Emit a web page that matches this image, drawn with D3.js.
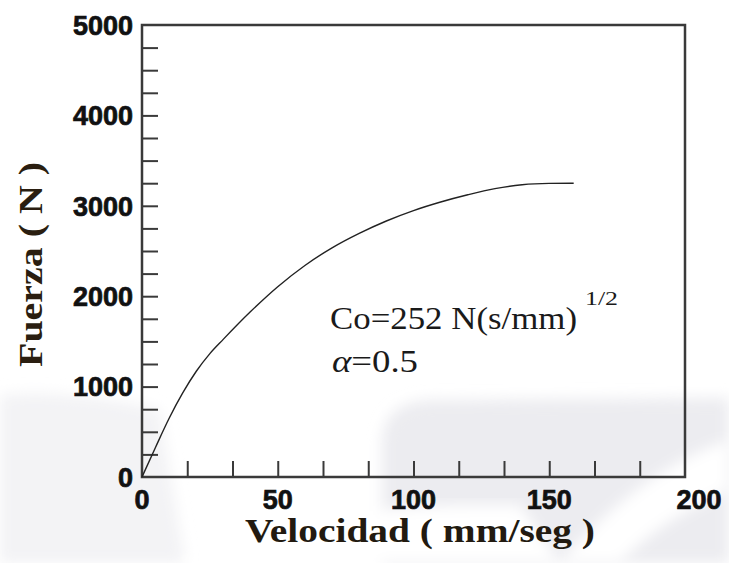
<!DOCTYPE html>
<html>
<head>
<meta charset="utf-8">
<script src="https://cdn.jsdelivr.net/npm/d3@7"></script>
<style>
  body { margin: 0; background: #fff; }
  svg { display: block; }
</style>
</head>
<body>
<svg></svg>
<script>
// curve: velocity (mm/seg) and force (N)
var velocidad = [0, 5, 10, 15, 20, 25, 30, 40, 50, 60, 70, 80, 90, 100, 110, 120, 130, 140, 150, 159];
var fuerza = [0, 330, 650, 930, 1170, 1365, 1525, 1830, 2105, 2340, 2535, 2695, 2832, 2947, 3042, 3122, 3190, 3233, 3248, 3250];

var xLabels = [0, 50, 100, 150, 200];
var yLabels = [0, 1000, 2000, 3000, 4000, 5000];

let width = 729, height = 563;
let margin = {left: 142, top: 25, right: 44, bottom: 86};

let svg = d3.select("svg")
    .attr("width", width)
    .attr("height", height);

// faint watermark in the background
let wm = svg.append("g").attr("id", "watermark");
wm.append("defs").append("filter").attr("id", "soft")
    .append("feGaussianBlur").attr("stdDeviation", 7);
wm.append("path")
    .attr("d", "M0,395 C60,390 120,400 160,410 L185,563 L0,563 Z")
    .attr("fill", "#f3f3f5")
    .attr("filter", "url(#soft)");
wm.append("path")
    .attr("d", "M382,563 L382,440 Q385,402 430,400 L729,398 L729,563 Z")
    .attr("fill", "#ececf0")
    .attr("filter", "url(#soft)");
wm.append("path")
    .attr("d", "M560,563 Q640,470 729,440 L729,490 Q660,520 620,563 Z")
    .attr("fill", "#ffffff")
    .attr("filter", "url(#soft)");
wm.append("path")
    .attr("d", "M180,563 Q300,500 520,505 L560,563 Z")
    .attr("fill", "#ffffff")
    .attr("filter", "url(#soft)");

let x = d3.scaleLinear()
    .domain([0, 200])
    .range([margin.left, width - margin.right]);

let y = d3.scaleLinear()
    .domain([0, 5000])
    .range([height - margin.bottom, margin.top]);

let axisColor = "#3a3a3a";

// minor + major ticks, pointing inward
let xTicks = d3.range(1, 12).map(i => i * 50 / 3);
let yTicks = d3.range(1, 20).map(i => i * 250);

svg.append("g")
    .attr("transform", "translate(0," + y(0) + ")")
    .call(d3.axisBottom(x).tickValues(xTicks).tickSize(-16).tickFormat(""))
    .call(g => g.select(".domain").remove())
    .selectAll("line")
    .attr("stroke", axisColor)
    .attr("stroke-width", 2);

svg.append("g")
    .attr("transform", "translate(" + x(0) + ",0)")
    .call(d3.axisLeft(y).tickValues(yTicks).tickSize(-16).tickFormat(""))
    .call(g => g.select(".domain").remove())
    .selectAll("line")
    .attr("stroke", axisColor)
    .attr("stroke-width", 2);

// frame
svg.append("rect")
    .attr("x", x(0))
    .attr("y", y(5000))
    .attr("width", x(200) - x(0))
    .attr("height", y(0) - y(5000))
    .attr("fill", "none")
    .attr("stroke", axisColor)
    .attr("stroke-width", 2.5);

// tick labels
function tickText(sel) {
    sel.style("font-family", "'Liberation Sans', Arial, sans-serif")
        .style("font-weight", "bold")
        .style("font-size", "27px")
        .attr("fill", "#111")
        .attr("stroke", "#111")
        .attr("stroke-width", 0.7);
}

svg.append("g")
    .selectAll("text")
    .data(xLabels)
    .enter()
    .append("text")
    .attr("x", (d, i) => x(d) + (i == xLabels.length - 1 ? 14 : 0))
    .attr("y", 509)
    .attr("text-anchor", "middle")
    .call(tickText)
    .text(d => d);

svg.append("g")
    .selectAll("text")
    .data(yLabels)
    .enter()
    .append("text")
    .attr("x", x(0) - 9)
    .attr("y", d => y(d))
    .attr("dy", "0.36em")
    .attr("text-anchor", "end")
    .call(tickText)
    .text(d => d);

// the curve
let line = d3.line()
    .x((d, i) => x(velocidad[i]))
    .y(d => y(d))
    .curve(d3.curveMonotoneX);

svg.append("path")
    .datum(fuerza)
    .attr("d", line)
    .attr("fill", "none")
    .attr("stroke", "#222")
    .attr("stroke-width", 1.4);

// axis titles
svg.append("text")
    .attr("x", 245)
    .attr("y", 542)
    .attr("textLength", 350)
    .attr("lengthAdjust", "spacingAndGlyphs")
    .style("font-family", "'Liberation Serif', 'Times New Roman', serif")
    .style("font-weight", "bold")
    .style("font-size", "33px")
    .attr("fill", "#221a10")
    .text("Velocidad ( mm/seg )");

svg.append("text")
    .attr("transform", "translate(42,367) rotate(-90)")
    .attr("textLength", 205)
    .attr("lengthAdjust", "spacingAndGlyphs")
    .style("font-family", "'Liberation Serif', 'Times New Roman', serif")
    .style("font-weight", "bold")
    .style("font-size", "34px")
    .attr("fill", "#2a1e10")
    .text("Fuerza ( N )");

// annotation
let note = svg.append("g")
    .style("font-family", "'Liberation Serif', 'Times New Roman', serif")
    .attr("fill", "#1a1a1a");

note.append("text")
    .attr("x", 330)
    .attr("y", 329)
    .attr("textLength", 247)
    .attr("lengthAdjust", "spacingAndGlyphs")
    .style("font-size", "31px")
    .text("Co=252 N(s/mm)");

note.append("text")
    .attr("x", 585)
    .attr("y", 305)
    .attr("textLength", 33)
    .attr("lengthAdjust", "spacingAndGlyphs")
    .style("font-size", "19px")
    .text("1/2");

let alpha = note.append("text")
    .attr("x", 332)
    .attr("y", 372)
    .attr("textLength", 86)
    .attr("lengthAdjust", "spacingAndGlyphs")
    .style("font-size", "31px");
alpha.append("tspan").style("font-style", "italic").text("α");
alpha.append("tspan").text("=0.5");
</script>
</body>
</html>
